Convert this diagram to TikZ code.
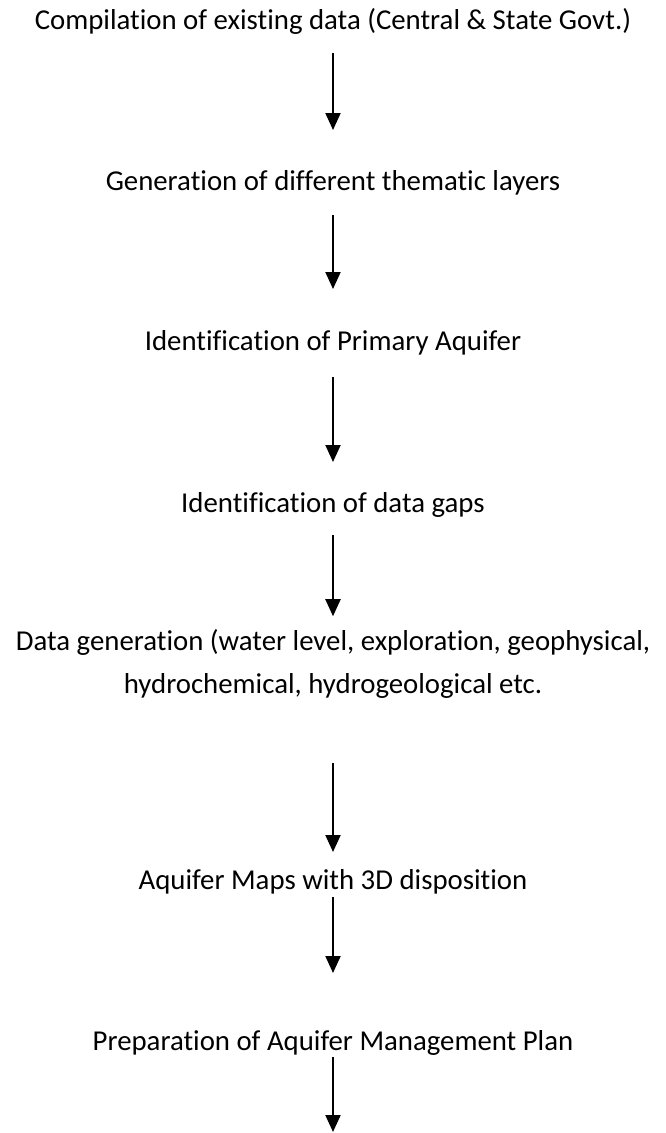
\documentclass[tikz,border=0pt]{standalone}
\usepackage{fontspec}
\setmainfont[Ligatures={NoCommon}]{Carlito}
\usetikzlibrary{arrows.meta}
% zero-width struts that fix the height and depth of each text line
\newcommand\hiStrut{\rule{0pt}{21pt}}
\newcommand\loStrut{\rule[-7pt]{0pt}{7pt}}
\tikzset{
  x=1pt, y=1pt,
  stagefont/.style={font=\fontsize{28.8}{34}\selectfont},
  stage/.style={stagefont, inner sep=0pt, outer sep=0pt,
                text height=21pt, text depth=7pt},
  stagetwo/.style={stagefont, inner sep=0pt, outer sep=0pt, align=center},
  flow/.style={draw=black, line width=2pt, -{Triangle[width=15pt,length=17pt]}},
}
\begin{document}
\begin{tikzpicture}
  \useasboundingbox (0,0) rectangle (665,-1133);

  \node[stage] (t1) at (333,-22) {Compilation of existing data (Central \& State Govt.)};
  \node[stage] (t2) at (333,-183) {Generation of different thematic layers};
  \node[stage] (t3) at (333,-343) {Identification of Primary Aquifer};
  \node[stage] (t4) at (333,-505) {Identification of data gaps};
  \node[stagetwo] (t5) at (333,-665)
    {\hiStrut Data generation (water level, exploration, geophysical,\\[9.5pt]hydrochemical, hydrogeological etc.\loStrut};
  \node[stage] (t6) at (333,-882) {Aquifer Maps with 3D disposition};
  \node[stage] (t7) at (333,-1043) {Preparation of Aquifer Management Plan};
  \coordinate (end) at (333,-1132);

  \draw[flow, shorten <=17pt, shorten >=39pt] (t1) -- (t2);
  \draw[flow, shorten <=18pt, shorten >=40pt] (t2) -- (t3);
  \draw[flow, shorten <=20pt, shorten >=29pt] (t3) -- (t4);
  \draw[flow, shorten <=16pt, shorten >=13pt] (t4) -- (t5);
  \draw[flow, shorten <=62pt, shorten >=16pt] (t5) -- (t6);
  \draw[flow, shorten <=1pt, shorten >=56pt] (t6) -- (t7);
  \draw[flow] (t7) -- (end);
\end{tikzpicture}
\end{document}
